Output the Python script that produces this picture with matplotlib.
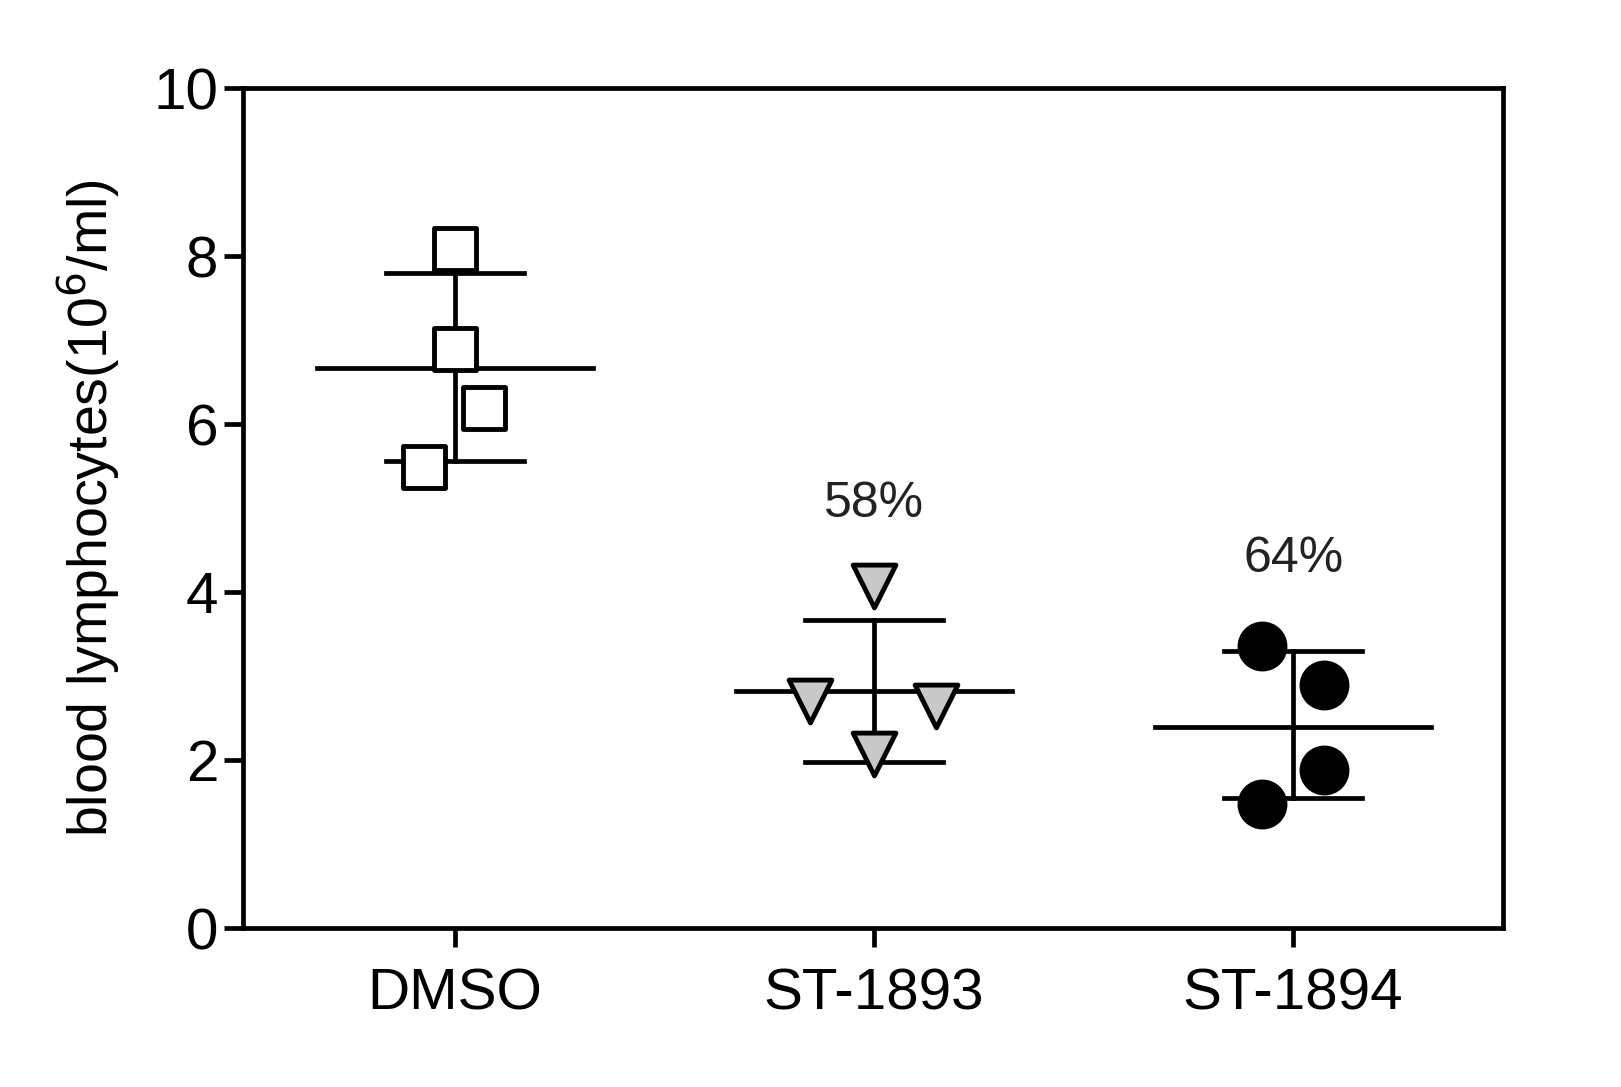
import matplotlib
matplotlib.use("Agg")
import matplotlib.pyplot as plt

plt.rcParams['font.family'] = ['Liberation Sans', 'DejaVu Sans']

categories = ["DMSO", "ST-1893", "ST-1894"]
values = [[8.09, 6.89, 6.19, 5.49],
          [4.07, 2.70, 2.64, 2.07],
          [3.36, 2.89, 1.88, 1.48]]
jitter = [[0.0, 0.0, 0.07, -0.074],
          [0.0, -0.153, 0.148, 0.0],
          [-0.074, 0.074, 0.074, -0.074]]
means = [6.67, 2.82, 2.40]
sd_hi = [7.80, 3.67, 3.30]
sd_lo = [5.56, 1.98, 1.55]
labels = [None, "58%", "64%"]
label_y = [None, 5.05, 4.4]
markers = ['s', 'v', 'o']
faces = ['white', '#c8c8c8', 'black']

fig = plt.figure(figsize=(16.21, 10.87), dpi=100)
ax = fig.add_axes([0.15, 0.146, 0.777, 0.773])
lw = 3.4
for i in range(3):
    ax.plot([i - 0.33, i + 0.33], [means[i]] * 2, color='black', lw=lw, zorder=2)
    ax.plot([i, i], [sd_lo[i], sd_hi[i]], color='black', lw=lw, zorder=2)
    for y in (sd_lo[i], sd_hi[i]):
        ax.plot([i - 0.165, i + 0.165], [y, y], color='black', lw=lw, zorder=2)
    xs = [i + j for j in jitter[i]]
    ax.scatter(xs, values[i], marker=markers[i], s=950 if i < 2 else 1050,
               facecolor=faces[i], edgecolor='black', linewidths=3.5, zorder=3)
    if labels[i]:
        ax.text(i, label_y[i], labels[i], ha='center', va='center', fontsize=36, color='#222222')

ax.set_xlim(-0.506, 2.5)
ax.set_ylim(0, 10)
ax.set_xticks(range(3))
ax.set_xticklabels(categories)
ax.set_yticks([0, 2, 4, 6, 8, 10])
ax.tick_params(axis='both', labelsize=42, width=3.4, length=14, color='black')
ax.tick_params(axis='y', pad=4)
ax.tick_params(axis='x', pad=14)
for s in ax.spines.values():
    s.set_linewidth(3.4)
ax.set_ylabel("blood lymphocytes(10$^6$/ml)", fontsize=40, labelpad=22)
fig.savefig("out.png", dpi=100)
